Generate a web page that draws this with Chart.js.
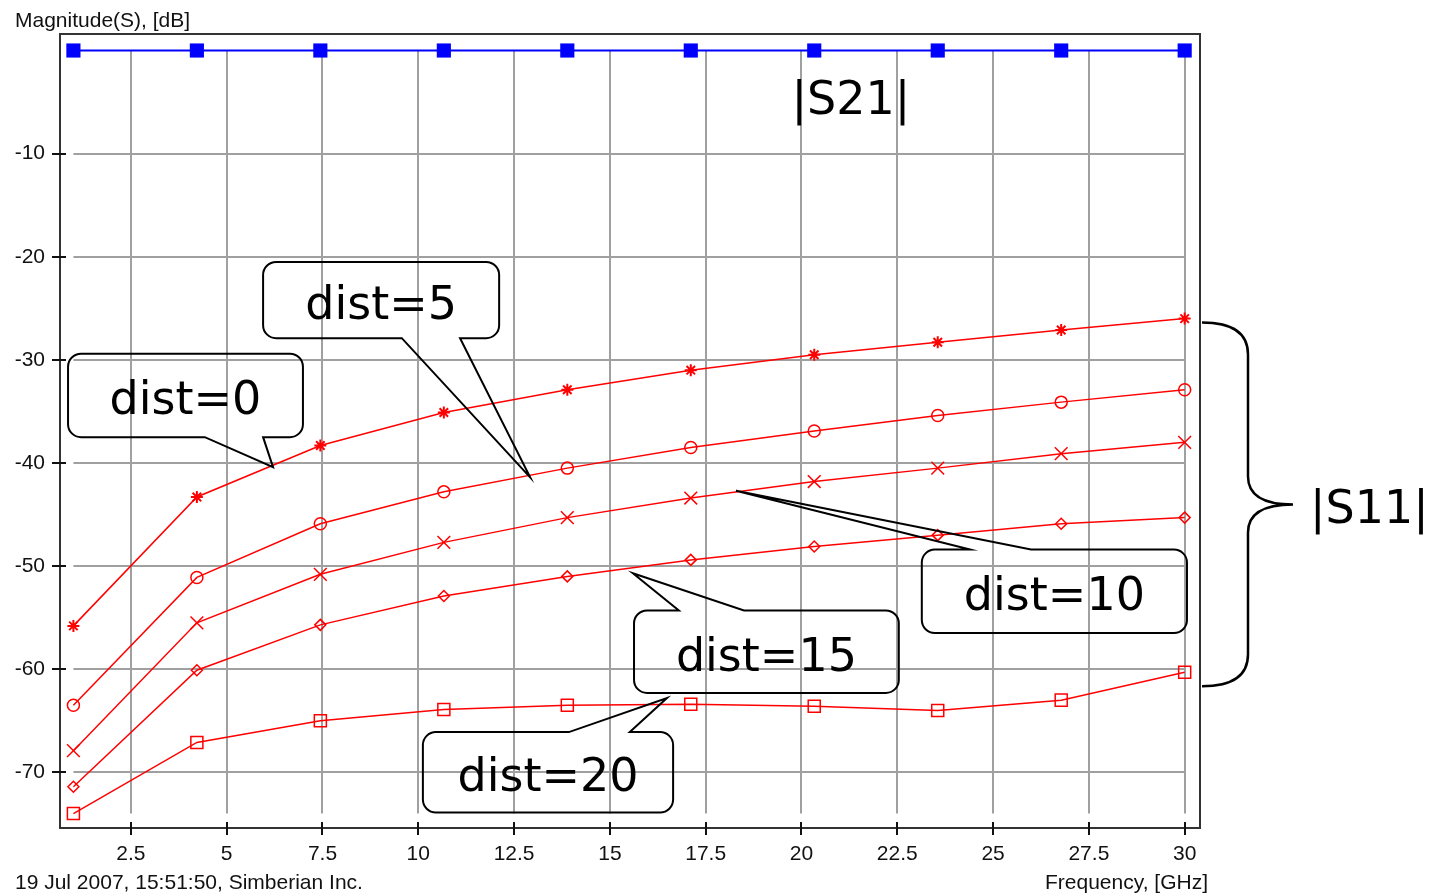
<!DOCTYPE html>
<html>
<head>
<meta charset="utf-8">
<title>Magnitude(S), [dB]</title>
<script src="https://cdn.jsdelivr.net/npm/chart.js@4.4.1/dist/chart.umd.min.js"></script>
<style>
html, body { margin: 0; padding: 0; background: #fff; }
.chart__box { width: 1451px; height: 894px; position: relative; }
</style>
</head>
<body>
<div class="chart__box"><canvas id="sparams"></canvas></div>
<script>
// frequency points, GHz
var freqs = [1, 4.222, 7.444, 10.667, 13.889, 17.111, 20.333, 23.556, 26.778, 30];

// |S21| and |S11| for each dist, dB
var s21    = [0, 0, 0, 0, 0, 0, 0, 0, 0, 0];
var dist0  = [-55.8, -43.3, -38.3, -35.1, -32.9, -31.0, -29.5, -28.3, -27.1, -26.0];
var dist5  = [-63.5, -51.1, -45.9, -42.8, -40.5, -38.5, -36.9, -35.4, -34.1, -32.9];
var dist10 = [-67.9, -55.5, -50.8, -47.7, -45.3, -43.4, -41.8, -40.5, -39.1, -38.0];
var dist15 = [-71.4, -60.1, -55.7, -52.9, -51.0, -49.4, -48.1, -47.0, -45.9, -45.3];
var dist20 = [-74.0, -67.1, -65.0, -63.9, -63.5, -63.4, -63.6, -64.0, -63.0, -60.3];

var xTicks = [2.5, 5, 7.5, 10, 12.5, 15, 17.5, 20, 22.5, 25, 27.5, 30];
var yTicks = [-70, -60, -50, -40, -30, -20, -10];

// callouts, placed in data units (GHz, dB)
var callouts = [
    { text: 'dist=0',  box: [0.86, -29.4, 6.99, -37.5],   side: 'bottom', base: [4.43, 5.95],   tip: [6.21, -40.4] },
    { text: 'dist=5',  box: [5.95, -20.5, 12.11, -27.9],  side: 'bottom', base: [9.57, 11.09],  tip: [12.92, -41.4] },
    { text: 'dist=10', box: [23.14, -48.4, 30.06, -56.5], side: 'top',    base: [24.40, 25.99], tip: [18.29, -42.7] },
    { text: 'dist=15', box: [15.63, -54.3, 22.54, -62.3], side: 'top',    base: [16.80, 18.50], tip: [15.60, -50.7] },
    { text: 'dist=20', box: [10.12, -66.1, 16.65, -73.9], side: 'top',    base: [13.93, 15.52], tip: [16.49, -62.8] }
];

function pts(arr) {
    return arr.map(function (v, i) { return { x: freqs[i], y: v }; });
}

function redSet(label, arr, style, r, bw) {
    return {
        label: label,
        data: pts(arr),
        borderColor: '#ff0000',
        borderWidth: 1.5,
        pointStyle: style,
        pointRadius: r,
        pointBorderColor: '#ff0000',
        pointBackgroundColor: 'rgba(0,0,0,0)',
        pointBorderWidth: bw || 1.5,
        tension: 0
    };
}

var allVals = s21.concat(dist0, dist5, dist10, dist15, dist20);
var dataTop = Math.max.apply(null, allVals);
var dataBottom = Math.min.apply(null, allVals);

var decor = {
    id: 'decor',
    beforeDatasetsDraw: function (chart) {
        var ctx = chart.ctx, xs = chart.scales.x, ys = chart.scales.y;
        var x0 = xs.getPixelForValue(freqs[0]), x1 = xs.getPixelForValue(freqs[freqs.length - 1]);
        var y0 = ys.getPixelForValue(dataTop), y1 = ys.getPixelForValue(dataBottom);
        ctx.save();
        ctx.strokeStyle = '#a0a0a0';
        ctx.lineWidth = 2;
        ctx.beginPath();
        yTicks.forEach(function (v) {
            var y = Math.round(ys.getPixelForValue(v));
            ctx.moveTo(x0, y); ctx.lineTo(x1, y);
        });
        xTicks.forEach(function (v) {
            var x = Math.round(xs.getPixelForValue(v));
            ctx.moveTo(x, y0); ctx.lineTo(x, y1);
        });
        ctx.stroke();
        ctx.restore();
    },
    afterDraw: function (chart) {
        var ctx = chart.ctx, xs = chart.scales.x, ys = chart.scales.y, a = chart.chartArea;
        ctx.save();
        // frame and tick marks
        ctx.strokeStyle = '#333';
        ctx.lineWidth = 2;
        ctx.strokeRect(a.left, a.top, a.right - a.left, a.bottom - a.top);
        ctx.strokeStyle = '#111';
        ctx.beginPath();
        yTicks.forEach(function (v) {
            var y = Math.round(ys.getPixelForValue(v));
            ctx.moveTo(a.left - 8, y); ctx.lineTo(a.left + 6, y);
        });
        xTicks.forEach(function (v) {
            var x = Math.round(xs.getPixelForValue(v));
            ctx.moveTo(x, a.bottom - 6); ctx.lineTo(x, a.bottom + 7);
        });
        ctx.stroke();

        // axis captions
        ctx.fillStyle = '#111';
        ctx.font = '21px "Liberation Sans", Arial, sans-serif';
        ctx.textBaseline = 'alphabetic';
        ctx.textAlign = 'left';
        ctx.fillText('Magnitude(S), [dB]', 15, 27);
        ctx.fillText('19 Jul 2007, 15:51:50, Simberian Inc.', 15, 889);
        ctx.textAlign = 'right';
        ctx.fillText('Frequency, [GHz]', 1208, 889);

        // callouts
        ctx.strokeStyle = '#000';
        ctx.lineWidth = 2;
        ctx.lineJoin = 'miter';
        ctx.font = '46px "DejaVu Sans", sans-serif';
        ctx.textAlign = 'center';
        ctx.textBaseline = 'middle';
        ctx.fillStyle = '#000';
        callouts.forEach(function (c) {
            var l = xs.getPixelForValue(c.box[0]), t = ys.getPixelForValue(c.box[1]);
            var r = xs.getPixelForValue(c.box[2]), b = ys.getPixelForValue(c.box[3]);
            var b0 = xs.getPixelForValue(c.base[0]), b1 = xs.getPixelForValue(c.base[1]);
            var tx = xs.getPixelForValue(c.tip[0]), ty = ys.getPixelForValue(c.tip[1]);
            var rad = 13;
            ctx.beginPath();
            ctx.moveTo(l + rad, t);
            if (c.side === 'top') { ctx.lineTo(b0, t); ctx.lineTo(tx, ty); ctx.lineTo(b1, t); }
            ctx.lineTo(r - rad, t);
            ctx.arcTo(r, t, r, t + rad, rad);
            ctx.lineTo(r, b - rad);
            ctx.arcTo(r, b, r - rad, b, rad);
            if (c.side === 'bottom') { ctx.lineTo(b1, b); ctx.lineTo(tx, ty); ctx.lineTo(b0, b); }
            ctx.lineTo(l + rad, b);
            ctx.arcTo(l, b, l, b - rad, rad);
            ctx.lineTo(l, t + rad);
            ctx.arcTo(l, t, l + rad, t, rad);
            ctx.closePath();
            ctx.stroke();
            ctx.fillText(c.text, (l + r) / 2, (t + b) / 2 + 7);
        });

        // |S21| label
        ctx.fillText('|S21|', xs.getPixelForValue(21.29), ys.getPixelForValue(-5.0));

        // brace for |S11|
        var R = a.right;
        var yTop = ys.getPixelForValue(dist0[dist0.length - 1]) + 4;
        var yBot = ys.getPixelForValue(dist20[dist20.length - 1]) + 14;
        var yMid = (yTop + yBot) / 2;
        ctx.lineWidth = 2.5;
        ctx.beginPath();
        ctx.moveTo(R + 2, yTop);
        ctx.quadraticCurveTo(R + 48, yTop, R + 48, yTop + 32);
        ctx.lineTo(R + 48, yMid - 28);
        ctx.quadraticCurveTo(R + 48, yMid, R + 93, yMid);
        ctx.quadraticCurveTo(R + 48, yMid, R + 48, yMid + 28);
        ctx.lineTo(R + 48, yBot - 32);
        ctx.quadraticCurveTo(R + 48, yBot, R + 2, yBot);
        ctx.stroke();
        ctx.textAlign = 'left';
        ctx.fillText('|S11|', R + 110, yMid + 7);
        ctx.restore();
    }
};

Chart.defaults.font.family = '"Liberation Sans", Arial, sans-serif';
Chart.defaults.font.size = 21;
Chart.defaults.color = '#111';

var ctxS = document.getElementById('sparams');
new Chart(ctxS, {
    type: 'line',
    data: {
        datasets: [
            {
                label: '|S21|',
                data: pts(s21),
                borderColor: '#0000ff',
                borderWidth: 2,
                pointStyle: 'rect',
                pointRadius: 10,
                pointBackgroundColor: '#0000ff',
                pointBorderColor: '#0000ff',
                pointBorderWidth: 0
            },
            redSet('dist=0', dist0, 'star', 6, 2),
            redSet('dist=5', dist5, 'circle', 6),
            redSet('dist=10', dist10, 'crossRot', 9),
            redSet('dist=15', dist15, 'rectRot', 5.5),
            redSet('dist=20', dist20, 'rect', 8.5)
        ]
    },
    options: {
        responsive: true,
        maintainAspectRatio: false,
        animation: false,
        layout: { padding: { top: 34, right: 251, left: 0, bottom: 0 } },
        plugins: {
            legend: { display: false },
            tooltip: { enabled: false }
        },
        scales: {
            x: {
                type: 'linear',
                min: 0.65,
                max: 30.4,
                grid: { display: false, drawTicks: false },
                border: { display: false },
                afterBuildTicks: function (s) { s.ticks = xTicks.map(function (v) { return { value: v }; }); },
                afterFit: function (s) { s.height = 66; },
                ticks: {
                    autoSkip: false,
                    maxRotation: 0,
                    padding: 14,
                    callback: function (v) { return String(v); }
                }
            },
            y: {
                type: 'linear',
                min: -75.4,
                max: 1.6,
                grid: { display: false, drawTicks: false },
                border: { display: false },
                afterBuildTicks: function (s) { s.ticks = yTicks.map(function (v) { return { value: v }; }); },
                afterFit: function (s) { s.width = 60; },
                ticks: {
                    autoSkip: false,
                    padding: 15,
                    callback: function (v) { return String(v); }
                }
            }
        }
    },
    plugins: [decor]
});
</script>
</body>
</html>
